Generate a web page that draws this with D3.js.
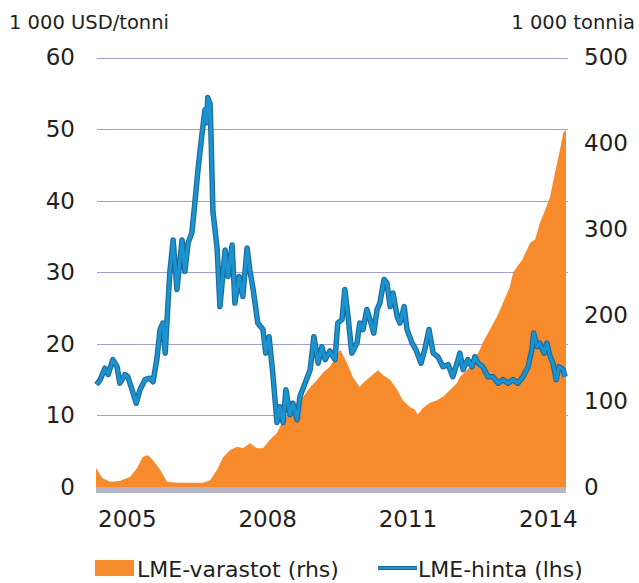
<!DOCTYPE html>
<html>
<head>
	<meta charset="utf-8">
	<script src="https://cdnjs.cloudflare.com/ajax/libs/d3/7.8.5/d3.min.js"></script>
	<style>
		body { margin: 0 ; background: #fff ; }
		svg { display: block ; font-family: "DejaVu Sans", sans-serif ; }
		text { fill: #231f20 ; }
	</style>
</head>
<body>
	<svg id="canvas"></svg>
<script>
	// values; time as decimal years
	let priceYears = [
		2005.01, 2005.09, 2005.19, 2005.26, 2005.36, 2005.45, 2005.51, 2005.62, 2005.68, 2005.77,
		2005.86, 2005.94, 2006.05, 2006.15, 2006.22, 2006.30, 2006.37, 2006.43, 2006.48, 2006.54,
		2006.58, 2006.65, 2006.73, 2006.84, 2006.90, 2006.97, 2007.05, 2007.12, 2007.18, 2007.27,
		2007.33, 2007.37, 2007.39, 2007.44, 2007.46, 2007.50, 2007.59, 2007.65, 2007.76, 2007.82,
		2007.91, 2007.97, 2008.06, 2008.14, 2008.23, 2008.29, 2008.36, 2008.46, 2008.57, 2008.63,
		2008.70, 2008.78, 2008.87, 2008.93, 2009.00, 2009.06, 2009.15, 2009.21, 2009.30, 2009.36,
		2009.47, 2009.58, 2009.66, 2009.75, 2009.83, 2009.90, 2010.00, 2010.11, 2010.17, 2010.26,
		2010.32, 2010.39, 2010.47, 2010.58, 2010.64, 2010.71, 2010.79, 2010.86, 2010.94, 2011.01,
		2011.07, 2011.16, 2011.22, 2011.29, 2011.35, 2011.44, 2011.50, 2011.59, 2011.65, 2011.76,
		2011.84, 2011.95, 2012.03, 2012.12, 2012.21, 2012.31, 2012.42, 2012.53, 2012.63, 2012.72,
		2012.78, 2012.85, 2012.95, 2013.04, 2013.10, 2013.17, 2013.27, 2013.38, 2013.49, 2013.60,
		2013.70, 2013.81, 2013.92, 2014.02, 2014.13, 2014.24, 2014.32, 2014.36, 2014.43, 2014.49,
		2014.58, 2014.64, 2014.71, 2014.77, 2014.84, 2014.90, 2014.99, 2015.03
	] ;
	let priceValues = [
		14.3, 15.0, 16.6, 15.7, 17.8, 16.8, 14.5, 15.7, 15.4, 13.6,
		11.7, 13.6, 15.0, 15.2, 14.7, 17.8, 22.0, 22.9, 18.7, 25.7,
		30.1, 34.5, 27.6, 34.5, 30.1, 34.1, 35.5, 40.1, 44.3, 49.5,
		52.7, 50.9, 54.4, 53.5, 49.0, 38.5, 33.3, 25.2, 33.1, 29.4,
		33.8, 25.7, 29.4, 26.6, 33.4, 30.3, 27.6, 22.9, 22.0, 18.7,
		21.0, 15.9, 9.0, 11.2, 9.0, 13.6, 10.1, 11.7, 9.4, 12.6,
		14.5, 16.4, 21.0, 17.3, 19.6, 17.8, 19.0, 17.8, 22.9, 23.4,
		27.6, 23.8, 18.7, 20.1, 22.9, 22.0, 24.8, 23.4, 21.5, 24.8,
		25.7, 29.0, 28.5, 25.2, 27.1, 23.8, 22.9, 25.2, 22.0, 20.1,
		19.2, 17.3, 19.2, 22.0, 18.7, 18.2, 16.8, 17.1, 15.4, 17.3,
		18.7, 16.4, 17.8, 16.8, 18.2, 17.3, 16.8, 15.4, 15.4, 14.5,
		15.0, 14.5, 15.0, 14.5, 15.4, 16.8, 19.2, 21.5, 19.6, 20.1,
		18.7, 20.1, 18.2, 17.3, 15.0, 16.8, 16.4, 15.4
	] ;

	let stockYears = [
		2005.00, 2005.09, 2005.15, 2005.30, 2005.51, 2005.73, 2005.88, 2006.00, 2006.11, 2006.22,
		2006.37, 2006.52, 2006.73, 2007.01, 2007.29, 2007.44, 2007.59, 2007.72, 2007.87, 2008.01,
		2008.14, 2008.29, 2008.44, 2008.57, 2008.72, 2008.87, 2009.00, 2009.15, 2009.30, 2009.43,
		2009.58, 2009.73, 2009.85, 2010.00, 2010.11, 2010.22, 2010.37, 2010.49, 2010.64, 2010.71,
		2010.86, 2011.03, 2011.14, 2011.29, 2011.44, 2011.56, 2011.71, 2011.82, 2011.88, 2011.99,
		2012.14, 2012.29, 2012.42, 2012.57, 2012.72, 2012.78, 2013.00, 2013.21, 2013.27, 2013.42,
		2013.57, 2013.70, 2013.85, 2013.92, 2014.00, 2014.11, 2014.24, 2014.28, 2014.39, 2014.49,
		2014.60, 2014.71, 2014.81, 2014.92, 2014.99, 2015.05
	] ;
	let stockValues = [
		22, 14, 10, 6, 7, 12, 22, 35, 37, 31,
		20, 6, 5, 5, 5, 8, 20, 35, 43, 47,
		45, 51, 45, 45, 55, 63, 78, 86, 98, 105,
		116, 125, 133, 140, 150, 160, 144, 128, 116, 121,
		128, 136, 130, 125, 113, 101, 93, 90, 84, 92,
		98, 101, 105, 113, 121, 128, 140, 160, 168, 183,
		198, 214, 233, 250, 256, 264, 279, 284, 288, 307,
		322, 338, 365, 392, 412, 416
	] ;

	let leftTicks = [0, 10, 20, 30, 40, 50, 60] ;
	let rightTicks = [0, 100, 200, 300, 400, 500] ;
	let yearLabels = [2005, 2008, 2011, 2014] ;
	let titles = { left: "1 000 USD/tonni", right: "1 000 tonnia" } ;
	let legendLabels = [ "LME-varastot (rhs)", "LME-hinta (lhs)" ] ;
</script>
<script>
	let geom = {
		width: 639,
		height: 583,
		left: 96,
		right: 566,
		top: 57.5,
		bottom: 487
	} ;
	let colours = {
		area: "#f78a2b",
		line: "#1b93cf",
		lineEdge: "#1c6b9e",
		grid: "#a29fcf",
		base: "#b7b4c6"
	} ;
	// year labels sit a bit after the start of each year in the original
	let labelOffset = 0.66 ;

	let scales = {
		x: d3.scaleLinear()
			.domain( [2005.0, 2015.05] )
			.range( [ geom.left, geom.right ] ),
		yl: d3.scaleLinear()
			.domain( [0, 60] )
			.range( [ geom.bottom, geom.top ] ),
		yr: d3.scaleLinear()
			.domain( [0, 500] )
			.range( [ geom.bottom, geom.top ] )
	} ;

	let svg = d3.select( '#canvas' )
		.attr( 'width', geom.width )
		.attr( 'height', geom.height ) ;

	// gridlines
	svg.append( 'g' )
		.attr( 'class', 'grid' )
		.selectAll( 'line' )
		.data( leftTicks.filter( d => d > 0 ) )
		.join( 'line' )
		.attr( 'x1', geom.left + 1 )
		.attr( 'x2', geom.right + 2 )
		.attr( 'y1', d => Math.round( scales.yl(d) ) + 0.5 )
		.attr( 'y2', d => Math.round( scales.yl(d) ) + 0.5 )
		.attr( 'stroke', colours.grid )
		.attr( 'stroke-width', 1 ) ;

	// stocks area (rhs)
	let stocks = stockYears.map( (t, i) => ( { t: t, v: stockValues[i] } ) ) ;
	let area = d3.area()
		.x( d => scales.x(d.t) )
		.y0( scales.yr(0) )
		.y1( d => scales.yr(d.v) ) ;
	svg.append( 'path' )
		.datum( stocks )
		.attr( 'd', area )
		.attr( 'fill', colours.area ) ;

	// zero line
	svg.append( 'line' )
		.attr( 'x1', geom.left )
		.attr( 'x2', geom.right )
		.attr( 'y1', geom.bottom + 3 )
		.attr( 'y2', geom.bottom + 3 )
		.attr( 'stroke', colours.base )
		.attr( 'stroke-width', 6 ) ;

	// price line (lhs), dark edge under a lighter core
	let prices = priceYears.map( (t, i) => ( { t: t, v: priceValues[i] } ) ) ;
	let lf = d3.line()
		.x( d => scales.x(d.t) )
		.y( d => scales.yl(d.v) ) ;
	svg.append( 'path' )
		.datum( prices )
		.attr( 'd', lf )
		.attr( 'fill', 'none' )
		.attr( 'stroke', colours.lineEdge )
		.attr( 'stroke-width', 5.5 )
		.attr( 'stroke-linejoin', 'round' ) ;
	svg.append( 'path' )
		.datum( prices )
		.attr( 'd', lf )
		.attr( 'fill', 'none' )
		.attr( 'stroke', colours.line )
		.attr( 'stroke-width', 3.2 )
		.attr( 'stroke-linejoin', 'round' ) ;

	// axes
	let yaxisL = svg.append( 'g' )
		.attr( 'transform', 'translate(78,0)' )
		.call( d3.axisLeft( scales.yl ).tickValues( leftTicks ).tickSize( 0 ).tickPadding( 3 ) ) ;
	let yaxisR = svg.append( 'g' )
		.attr( 'transform', 'translate(581,0)' )
		.call( d3.axisRight( scales.yr ).tickValues( rightTicks ).tickSize( 0 ).tickPadding( 3 ) ) ;
	let xaxis = svg.append( 'g' )
		.attr( 'transform', 'translate(0,505)' )
		.call( d3.axisBottom( scales.x )
			.tickValues( yearLabels.map( y => y + labelOffset ) )
			.tickFormat( d => Math.floor(d) )
			.tickSize( 0 ).tickPadding( 6 ) ) ;

	svg.selectAll( '.domain' ).remove() ;
	svg.selectAll( '.tick text' )
		.attr( 'font-family', '"DejaVu Sans", sans-serif' )
		.attr( 'font-size', 23 )
		.attr( 'fill', '#231f20' ) ;

	// unit titles
	svg.append( 'text' )
		.attr( 'x', 9 )
		.attr( 'y', 29 )
		.attr( 'font-size', 19.5 )
		.text( titles.left ) ;
	svg.append( 'text' )
		.attr( 'x', 635 )
		.attr( 'y', 29 )
		.attr( 'text-anchor', 'end' )
		.attr( 'font-size', 19.5 )
		.text( titles.right ) ;

	// legend
	let legend = svg.append( 'g' ).attr( 'font-size', 22 ) ;
	legend.append( 'rect' )
		.attr( 'x', 95 ).attr( 'y', 560 )
		.attr( 'width', 39 ).attr( 'height', 16 )
		.attr( 'fill', colours.area ) ;
	legend.append( 'text' )
		.attr( 'x', 137 ).attr( 'y', 577 )
		.text( legendLabels[0] ) ;
	legend.append( 'line' )
		.attr( 'x1', 378 ).attr( 'x2', 417 )
		.attr( 'y1', 568 ).attr( 'y2', 568 )
		.attr( 'stroke', colours.lineEdge )
		.attr( 'stroke-width', 4 ) ;
	legend.append( 'line' )
		.attr( 'x1', 378 ).attr( 'x2', 417 )
		.attr( 'y1', 568 ).attr( 'y2', 568 )
		.attr( 'stroke', colours.line )
		.attr( 'stroke-width', 2 ) ;
	legend.append( 'text' )
		.attr( 'x', 418 ).attr( 'y', 577 )
		.text( legendLabels[1] ) ;
</script>
</body>
</html>
